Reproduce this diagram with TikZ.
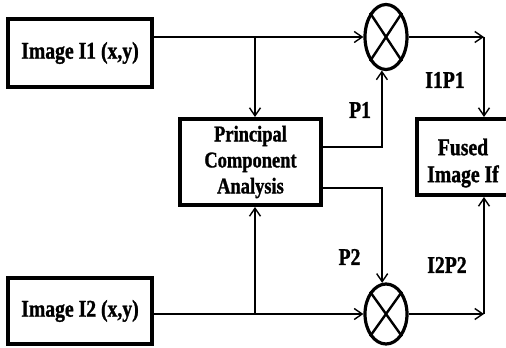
\documentclass[tikz,border=0pt]{standalone}
\usepackage{fontspec}
\setmainfont{Liberation Serif}[FakeStretch=0.82,BoldFeatures={FakeBold=1.2}]
\usetikzlibrary{arrows.meta,shapes.geometric}
\begin{document}
\begin{tikzpicture}[x=1pt,y=-1pt,>={Straight Barb[length=8pt,width=11pt]},line width=1.4pt,
every node/.style={font=\bfseries\fontsize{24}{27}\selectfont},
b/.style={draw,line width=4pt,align=center,inner sep=0pt},
m/.style={draw,ellipse,line width=3.2pt,minimum width=42,minimum height=65,inner sep=0pt}]
\useasboundingbox (0,0) rectangle (506,348);
\node[b,minimum width=144,minimum height=68] (i1) at (80,53){Image I1 (x,y)};
\node[b,minimum width=144,minimum height=66] (i2) at (80,311){Image I2 (x,y)};
\node[b,minimum width=141,minimum height=86,font=\bfseries\fontsize{22.5}{26}\selectfont] (pca) at (250.5,162){Principal\\Component\\Analysis};
\node[b,minimum width=92,minimum height=76] (fu) at (463,157){};
\node[align=center,yshift=-6pt] (fut) at (fu.center){Fused\\Image If};
\node[m] (e1) at (386,37){};\node[m,minimum height=60] (e2) at (386,314){};
\draw[line width=2.4pt] (e1.north west)--(e1.south east) (e1.north east)--(e1.south west);
\draw[line width=2.4pt] (e2.north west)--(e2.south east) (e2.north east)--(e2.south west);
\coordinate (b1) at (255,37);\coordinate (b2) at (255,314);
\coordinate (c1) at (484,37);\coordinate (c2) at (484,314);
% image lines
\draw[->] (i1.east |- b1)--(e1.west);\draw[->] (b1)--(b1 |- pca.north);
\draw[->] (i2.east |- b2)--(e2.west);\draw[->] (b2)--(b2 |- pca.south);
% weights
\draw[->] ([yshift=15pt]pca.east) -| (e1.-97);
\draw[->] ([yshift=-26pt]pca.east) -| (e2.97);
% products
\draw[->] (e1.east)--(c1);\draw[->] (c1)--(c1 |- fu.north);
\draw[->] (e2.east)--(c2);\draw[->] (c2)--(c2 |- fu.south);
\node (lp1) at (360,110){P1};\node (l11) at (445,80){I1P1};
\node (lp2) at (349.5,257){P2};\node (l22) at (447,265){I2P2};
\end{tikzpicture}
\end{document}
